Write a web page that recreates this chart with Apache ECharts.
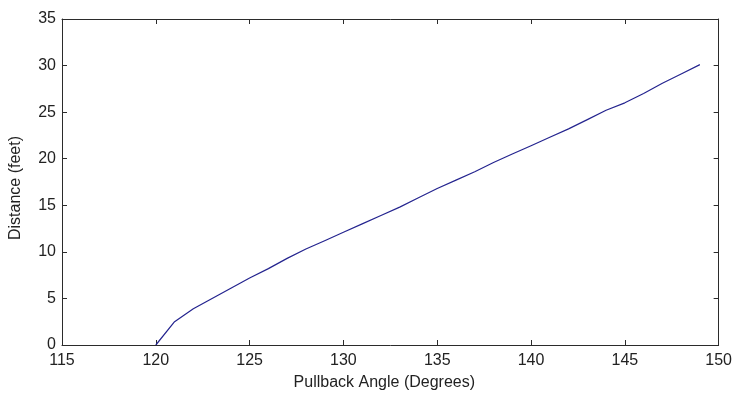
<!DOCTYPE html>
<html>
<head>
<meta charset="utf-8">
<script src="https://cdn.jsdelivr.net/npm/echarts@6/dist/echarts.min.js"></script>
<style>html,body{margin:0;padding:0;background:#fff;}#c{width:735px;height:396px;}</style>
</head>
<body>
<div id="c"></div>
<script>
const angles = [120,121,122,123,124,125,126,127,128,129,130,131,132,133,134,135,136,137,138,139,140,141,142,143,144,145,146,147,148,149];
const distances = [0,2.5,3.9,5.0,6.1,7.2,8.2,9.3,10.3,11.2,12.1,13.0,13.9,14.8,15.8,16.8,17.7,18.6,19.6,20.5,21.4,22.3,23.2,24.2,25.2,26.0,27.0,28.1,29.1,30.1];
const xTicks = [115,120,125,130,135,140,145,150];
const yTicks = [0,5,10,15,20,25,30,35];
const xName = 'Pullback Angle (Degrees)';
const yName = 'Distance (feet)';

const font = 'Liberation Sans, Arial, sans-serif';
const axisColor = '#2b2b2b';
const chart = echarts.init(document.getElementById('c'), null, {renderer:'canvas'});
const baseAxis = {
  axisLine:{show:true, onZero:false, lineStyle:{color:axisColor, width:1}},
  axisTick:{show:true, inside:true, length:5, lineStyle:{color:axisColor}},
  splitLine:{show:false}
};
chart.setOption({
  animation:false,
  backgroundColor:'#fff',
  grid:{left:60, right:13, top:19, bottom:46, containLabel:false},
  xAxis:[
    Object.assign({}, baseAxis, {
      type:'value', min:xTicks[0], max:xTicks[xTicks.length-1], interval:5,
      position:'bottom',
      axisLabel:{color:'#222', fontSize:16, fontFamily:font, margin:8},
      name:xName, nameLocation:'middle', nameGap:30,
      nameTextStyle:{color:'#222', fontSize:16, fontFamily:font, padding:[0,12,0,0]}
    }),
    Object.assign({}, baseAxis, {
      type:'value', min:xTicks[0], max:xTicks[xTicks.length-1], interval:5,
      position:'top', axisLabel:{show:false}
    })
  ],
  yAxis:[
    Object.assign({}, baseAxis, {
      type:'value', min:yTicks[0], max:yTicks[yTicks.length-1], interval:5,
      position:'left',
      axisLabel:{color:'#222', fontSize:16, fontFamily:font, margin:6},
      name:yName, nameLocation:'middle', nameGap:38,
      nameTextStyle:{color:'#222', fontSize:16, fontFamily:font, padding:[0,12,0,0]}
    }),
    Object.assign({}, baseAxis, {
      type:'value', min:yTicks[0], max:yTicks[yTicks.length-1], interval:5,
      position:'right', axisLabel:{show:false}
    })
  ],
  series:[{
    type:'line',
    data: angles.map((a,i)=>[a, distances[i]]),
    showSymbol:false,
    lineStyle:{color:'#24248f', width:1.2},
    xAxisIndex:0, yAxisIndex:0
  }]
});
</script>
</body>
</html>
